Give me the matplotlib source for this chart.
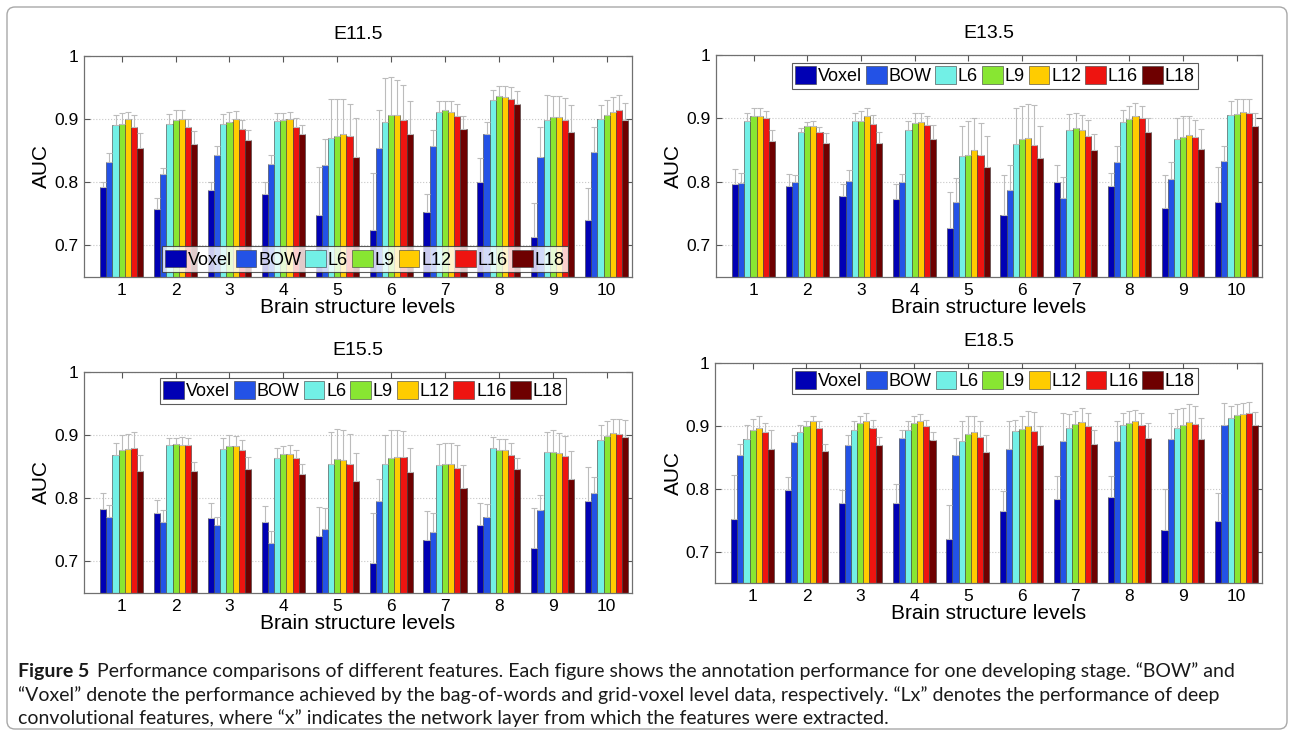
import matplotlib.pyplot as plt
import numpy as np
from matplotlib.patches import FancyBboxPatch
from matplotlib.transforms import IdentityTransform

plt.rcParams['font.family'] = ['Liberation Sans', 'DejaVu Sans']

features = ['Voxel', 'BOW', 'L6', 'L9', 'L12', 'L16', 'L18']
feature_colors = ['#0000b4', '#2352e6', '#72f0e6', '#88e632', '#ffcc00', '#ee1410', '#6e0000']
levels = [1, 2, 3, 4, 5, 6, 7, 8, 9, 10]

# mean AUC, one row per brain structure level, columns follow `features`
auc_e115 = [
    [0.792, 0.832, 0.890, 0.893, 0.900, 0.888, 0.854],
    [0.758, 0.813, 0.892, 0.898, 0.900, 0.887, 0.861],
    [0.788, 0.843, 0.892, 0.896, 0.900, 0.885, 0.867],
    [0.782, 0.829, 0.897, 0.898, 0.900, 0.888, 0.876],
    [0.748, 0.827, 0.870, 0.874, 0.876, 0.873, 0.840],
    [0.725, 0.854, 0.895, 0.907, 0.907, 0.899, 0.876],
    [0.753, 0.857, 0.912, 0.915, 0.912, 0.905, 0.885],
    [0.800, 0.876, 0.931, 0.937, 0.935, 0.932, 0.924],
    [0.713, 0.840, 0.898, 0.903, 0.903, 0.898, 0.879],
    [0.740, 0.848, 0.900, 0.907, 0.912, 0.915, 0.898],
]
std_e115 = [
    [0.008, 0.014, 0.017, 0.016, 0.012, 0.018, 0.024],
    [0.017, 0.010, 0.016, 0.017, 0.014, 0.013, 0.020],
    [0.012, 0.014, 0.016, 0.015, 0.013, 0.014, 0.016],
    [0.018, 0.014, 0.012, 0.011, 0.011, 0.013, 0.014],
    [0.076, 0.041, 0.062, 0.058, 0.056, 0.051, 0.062],
    [0.090, 0.060, 0.070, 0.060, 0.055, 0.055, 0.053],
    [0.029, 0.026, 0.016, 0.014, 0.017, 0.019, 0.020],
    [0.038, 0.019, 0.015, 0.016, 0.018, 0.019, 0.021],
    [0.054, 0.048, 0.040, 0.034, 0.033, 0.035, 0.044],
    [0.051, 0.040, 0.023, 0.023, 0.023, 0.023, 0.027],
]

auc_e135 = [
    [0.796, 0.798, 0.896, 0.904, 0.904, 0.900, 0.864],
    [0.794, 0.800, 0.878, 0.888, 0.888, 0.879, 0.861],
    [0.777, 0.802, 0.896, 0.896, 0.904, 0.891, 0.862],
    [0.773, 0.800, 0.881, 0.893, 0.895, 0.889, 0.868],
    [0.727, 0.768, 0.840, 0.843, 0.850, 0.843, 0.824],
    [0.748, 0.787, 0.859, 0.868, 0.869, 0.858, 0.838],
    [0.800, 0.774, 0.882, 0.885, 0.881, 0.872, 0.850],
    [0.794, 0.832, 0.895, 0.899, 0.904, 0.900, 0.879],
    [0.758, 0.804, 0.867, 0.871, 0.874, 0.870, 0.852],
    [0.768, 0.833, 0.906, 0.907, 0.910, 0.909, 0.888],
]
std_e135 = [
    [0.025, 0.016, 0.012, 0.012, 0.012, 0.011, 0.017],
    [0.019, 0.010, 0.007, 0.007, 0.008, 0.008, 0.016],
    [0.019, 0.016, 0.012, 0.015, 0.013, 0.014, 0.017],
    [0.023, 0.013, 0.015, 0.015, 0.013, 0.015, 0.022],
    [0.057, 0.038, 0.048, 0.053, 0.050, 0.049, 0.048],
    [0.062, 0.040, 0.057, 0.052, 0.053, 0.063, 0.050],
    [0.026, 0.033, 0.025, 0.023, 0.024, 0.025, 0.026],
    [0.020, 0.024, 0.019, 0.021, 0.021, 0.019, 0.022],
    [0.053, 0.028, 0.033, 0.033, 0.030, 0.027, 0.032],
    [0.055, 0.024, 0.022, 0.023, 0.021, 0.021, 0.021],
]

auc_e155 = [
    [0.783, 0.771, 0.868, 0.876, 0.878, 0.879, 0.843],
    [0.777, 0.763, 0.885, 0.886, 0.884, 0.884, 0.843],
    [0.768, 0.758, 0.878, 0.882, 0.882, 0.876, 0.847],
    [0.763, 0.729, 0.864, 0.870, 0.870, 0.864, 0.838],
    [0.741, 0.752, 0.854, 0.862, 0.861, 0.854, 0.828],
    [0.698, 0.795, 0.854, 0.863, 0.866, 0.865, 0.841],
    [0.734, 0.747, 0.853, 0.855, 0.854, 0.848, 0.817],
    [0.758, 0.770, 0.879, 0.876, 0.876, 0.868, 0.846],
    [0.721, 0.781, 0.873, 0.874, 0.871, 0.867, 0.830],
    [0.795, 0.809, 0.893, 0.898, 0.903, 0.901, 0.897],
]
std_e155 = [
    [0.025, 0.018, 0.020, 0.024, 0.023, 0.026, 0.025],
    [0.021, 0.019, 0.010, 0.010, 0.013, 0.012, 0.015],
    [0.025, 0.013, 0.018, 0.018, 0.016, 0.017, 0.018],
    [0.024, 0.019, 0.016, 0.012, 0.014, 0.013, 0.017],
    [0.045, 0.033, 0.051, 0.048, 0.047, 0.047, 0.043],
    [0.078, 0.035, 0.046, 0.045, 0.042, 0.042, 0.038],
    [0.046, 0.029, 0.033, 0.033, 0.034, 0.037, 0.036],
    [0.034, 0.021, 0.018, 0.018, 0.018, 0.020, 0.017],
    [0.063, 0.024, 0.032, 0.034, 0.032, 0.032, 0.045],
    [0.055, 0.025, 0.023, 0.025, 0.022, 0.025, 0.027],
]

auc_e185 = [
    [0.752, 0.853, 0.879, 0.893, 0.897, 0.890, 0.863],
    [0.798, 0.874, 0.890, 0.900, 0.907, 0.897, 0.860],
    [0.777, 0.870, 0.894, 0.904, 0.908, 0.897, 0.870],
    [0.778, 0.881, 0.894, 0.905, 0.908, 0.899, 0.877],
    [0.720, 0.854, 0.876, 0.887, 0.890, 0.882, 0.858],
    [0.765, 0.863, 0.891, 0.895, 0.899, 0.891, 0.869],
    [0.783, 0.876, 0.896, 0.903, 0.906, 0.900, 0.871],
    [0.786, 0.876, 0.902, 0.905, 0.908, 0.901, 0.881],
    [0.734, 0.879, 0.896, 0.901, 0.906, 0.903, 0.879],
    [0.748, 0.901, 0.912, 0.917, 0.919, 0.920, 0.902],
]
std_e185 = [
    [0.070, 0.018, 0.023, 0.018, 0.018, 0.014, 0.031],
    [0.020, 0.012, 0.011, 0.008, 0.008, 0.010, 0.011],
    [0.021, 0.015, 0.014, 0.012, 0.012, 0.013, 0.013],
    [0.029, 0.013, 0.013, 0.011, 0.011, 0.011, 0.013],
    [0.054, 0.026, 0.032, 0.028, 0.025, 0.026, 0.028],
    [0.032, 0.045, 0.019, 0.021, 0.024, 0.031, 0.030],
    [0.037, 0.045, 0.023, 0.021, 0.022, 0.021, 0.022],
    [0.034, 0.031, 0.019, 0.019, 0.017, 0.020, 0.024],
    [0.065, 0.042, 0.031, 0.028, 0.028, 0.028, 0.033],
    [0.045, 0.035, 0.019, 0.018, 0.018, 0.018, 0.020],
]

fig = plt.figure(figsize=(12.94, 7.37), dpi=100)

# title, values, errors, axes rect, legend loc, legend anchor
panels = [
    ('E11.5', auc_e115, std_e115, [0.0649, 0.6242, 0.4235, 0.2999], 'lower left', (0.142, 0.023)),
    ('E13.5', auc_e135, std_e135, [0.5533, 0.6242, 0.4219, 0.3012], 'upper left', (0.139, 0.964)),
    ('E15.5', auc_e155, std_e155, [0.0649, 0.1954, 0.4235, 0.2999], 'upper left', (0.139, 0.973)),
    ('E18.5', auc_e185, std_e185, [0.5526, 0.2090, 0.4227, 0.2985], 'upper left', (0.141, 0.977)),
]


def draw_panel(ax, title, auc, std, legend_loc, legend_anchor):
    auc = np.array(auc)
    std = np.array(std)
    x = np.array(levels)
    n = len(features)
    w = 0.8 / n
    for i, (name, color) in enumerate(zip(features, feature_colors)):
        pos = x + (i - (n - 1) / 2) * w
        ax.bar(pos, auc[:, i], width=w, color=color, edgecolor='#3a3a3a',
               linewidth=0.4, label=name, zorder=2)
        ax.errorbar(pos, auc[:, i], yerr=[np.zeros(len(x)), std[:, i]], fmt='none',
                    ecolor='#bcbcbc', elinewidth=0.8, capsize=2, capthick=0.8, zorder=3)

    ax.set_xlim(0.3, 10.47)
    ax.set_ylim(0.65, 1.0)
    ax.set_xticks(x)
    ax.set_yticks([0.7, 0.8, 0.9, 1.0])
    ax.set_yticklabels(['0.7', '0.8', '0.9', '1'])
    ax.tick_params(direction='in', top=True, right=True, length=4, labelsize=12.5,
                   color='#555555', pad=4)
    ax.yaxis.grid(True, linestyle=':', color='#c8c8c8', linewidth=0.8)
    ax.set_axisbelow(True)
    for sp in ax.spines.values():
        sp.set_color('#707070')
        sp.set_linewidth(0.9)

    ax.set_title(title, fontsize=14, pad=12)
    ax.set_xlabel('Brain structure levels', fontsize=15, labelpad=0)
    ax.set_ylabel('AUC', fontsize=15, labelpad=2)

    leg = ax.legend(ncol=n, loc=legend_loc, bbox_to_anchor=legend_anchor, fontsize=13,
                    frameon=True, fancybox=False, handlelength=1.15, handleheight=1.15,
                    handletextpad=0.1, columnspacing=0.22, borderpad=0.18,
                    borderaxespad=0)
    leg.get_frame().set_edgecolor('#333333')
    leg.get_frame().set_linewidth(0.8)
    leg.set_zorder(5)


for title, auc, std, rect, loc, anchor in panels:
    ax = fig.add_axes(rect)
    draw_panel(ax, title, auc, std, loc, anchor)

# caption below the panels
cap_font = ['Lato', 'DejaVu Sans']
cap_size = 14
lines = [
    'Performance comparisons of different features. Each figure shows the annotation '
    'performance for one developing stage. \u201cBOW\u201d and',
    '\u201cVoxel\u201d denote the performance achieved by the bag-of-words and grid-voxel level '
    'data, respectively. \u201cLx\u201d denotes the performance of deep',
    'convolutional features, where \u201cx\u201d indicates the network layer from which the '
    'features were extracted.',
]
line_y = [671, 695, 718]
x0 = 18 / 1294
head = fig.text(x0, 1 - line_y[0] / 737, 'Figure 5', fontsize=cap_size, fontweight='bold',
                family=cap_font, va='center', color='#1a1a1a')
fig.canvas.draw()
bb = head.get_window_extent()
fig.text((bb.x1 + 8) / 1294, 1 - line_y[0] / 737, lines[0], fontsize=cap_size,
         family=cap_font, va='center', color='#1a1a1a')
for txt, yy in zip(lines[1:], line_y[1:]):
    fig.text(x0, 1 - yy / 737, txt, fontsize=cap_size, family=cap_font, va='center',
             color='#1a1a1a')

# rounded frame around the whole figure
frame = FancyBboxPatch((7, 8), 1280, 722, boxstyle='round,pad=0,rounding_size=8',
                       transform=IdentityTransform(), facecolor='none',
                       edgecolor='#a8a8a8', linewidth=1.0)
fig.patches.append(frame)

fig.savefig('out.png', dpi=100)
